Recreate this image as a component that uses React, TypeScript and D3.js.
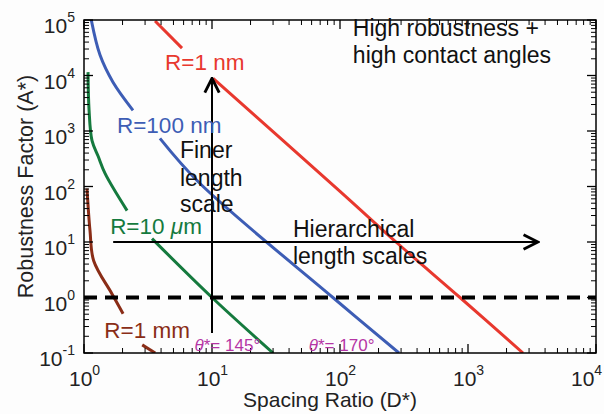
import React from "react";
import * as d3 from "d3";

const W = 604;
const H = 414;
const margin = { top: 20, right: 8, bottom: 61, left: 84 };

// axis decades
const xDecades = [0, 1, 2, 3, 4];
const yDecades = [-1, 0, 1, 2, 3, 4, 5];

// curves: [D*, A*], split where the labels sit
const redCurve = [
  [[3.59, 95900], [5.83, 31200]],
  [[10.2, 8900], [100, 82], [284, 9.3], [866, 1], [2690, 0.1]],
];
const blueCurve = [
  [[1.14, 100000], [1.334, 23300], [1.685, 7570], [2.414, 2360]],
  [[3.92, 736], [8.06, 113], [88, 1], [289, 0.1]],
];
const greenCurve = [
  [[1.075, 11500], [1.095, 2400], [1.155, 670], [1.29, 350], [1.46, 172], [2.17, 36.8]],
  [[3.4, 11.5], [10, 1], [30, 0.1]],
];
const brownCurve = [
  [[1.055, 92], [1.114, 16], [1.19, 4.6], [1.655, 1.16], [2.02, 0.51]],
  [[2.85, 0.14], [3.6, 0.1]],
];

const curves = [
  { segs: redCurve, color: "#e8382e" },
  { segs: blueCurve, color: "#3d5db5" },
  { segs: greenCurve, color: "#157a3e" },
  { segs: brownCurve, color: "#8a2d17" },
];

// annotation texts at [D*, A*] (left edge, baseline)
const curveLabels = [
  { text: "R=1 nm", d: 4.3, a: 12500, color: "#e8382e" },
  { text: "R=100 nm", d: 1.81, a: 908, color: "#3d5db5" },
  { text: "R=1 mm", d: 1.44, a: 0.185, color: "#8a2d17" },
];
const blackLabels = [
  { text: "Finer", d: 5.62, a: 321 },
  { text: "length", d: 5.62, a: 104 },
  { text: "scale", d: 5.62, a: 35 },
  { text: "Hierarchical", d: 42.9, a: 12.3 },
  { text: "length scales", d: 42.9, a: 3.98 },
  { text: "High robustness +", d: 126, a: 51000 },
  { text: "high contact angles", d: 126, a: 16600 },
];
const angleLabels = [
  { angle: 145, d: 7.3, a: 0.108 },
  { angle: 170, d: 57, a: 0.108 },
];

const vArrow = { d: 10, a0: 0.23, a1: 8900 };
const hArrow = { a: 10, d0: 1.69, d1: 3520 };
const thresholdA = 1;

const font = "'Liberation Sans', Arial, Helvetica, sans-serif";

const App = () => {
  const x = d3.scaleLog().domain([1, 1e4]).range([margin.left, W - margin.right]);
  const y = d3.scaleLog().domain([0.1, 1e5]).range([H - margin.bottom, margin.top]);
  const [x0, x1] = x.range();
  const [y0, y1] = y.range();

  const line = d3
    .line<number[]>()
    .x((d) => x(d[0]))
    .y((d) => y(d[1]))
    .curve(d3.curveCatmullRom.alpha(0.5));

  const minor = (decs: number[]) => {
    const out: number[] = [];
    decs.slice(0, -1).forEach((e) => {
      for (let k = 2; k <= 9; k++) out.push(k * Math.pow(10, e));
    });
    return out;
  };
  const xMinor = minor(xDecades);
  const yMinor = minor(yDecades);

  return (
    <svg
      width={W}
      height={H}
      style={{ position: "absolute", left: 0, top: 0, background: "#fdfdfd" }}
      fontFamily={font}
    >
      <defs>
        <clipPath id="plot">
          <rect x={x0} y={y1} width={x1 - x0} height={y0 - y1} />
        </clipPath>
        <marker id="head" viewBox="0 0 10 10" refX="9" refY="5" markerWidth="9" markerHeight="9" orient="auto">
          <path d="M1,1 L9,5 L1,9" fill="none" stroke="black" strokeWidth={1.6} />
        </marker>
      </defs>

      {/* curves */}
      <g clipPath="url(#plot)">
        {curves.map((c, i) =>
          c.segs.map((s, j) => (
            <path key={`${i}-${j}`} d={line(s as number[][]) || ""} fill="none" stroke={c.color} strokeWidth={3} />
          ))
        )}
        <line
          x1={x0}
          x2={x1}
          y1={y(thresholdA)}
          y2={y(thresholdA)}
          stroke="black"
          strokeWidth={4}
          strokeDasharray="13 8"
        />
      </g>

      {/* arrows */}
      <line
        x1={x(vArrow.d)}
        x2={x(vArrow.d)}
        y1={y(vArrow.a0)}
        y2={y(vArrow.a1)}
        stroke="black"
        strokeWidth={2}
        markerEnd="url(#head)"
      />
      <line
        x1={x(hArrow.d0)}
        x2={x(hArrow.d1)}
        y1={y(hArrow.a)}
        y2={y(hArrow.a)}
        stroke="black"
        strokeWidth={2}
        markerEnd="url(#head)"
      />

      {/* frame and ticks */}
      <rect x={x0} y={y1} width={x1 - x0} height={y0 - y1} fill="none" stroke="black" strokeWidth={1.5} />
      {xDecades.map((e) => (
        <g key={`xt${e}`}>
          <line x1={x(10 ** e)} x2={x(10 ** e)} y1={y0} y2={y0 - 9} stroke="black" strokeWidth={1.3} />
          <line x1={x(10 ** e)} x2={x(10 ** e)} y1={y1} y2={y1 + 9} stroke="black" strokeWidth={1.3} />
        </g>
      ))}
      {xMinor.map((v, i) => (
        <g key={`xm${i}`}>
          <line x1={x(v)} x2={x(v)} y1={y0} y2={y0 - 5} stroke="black" strokeWidth={1} />
          <line x1={x(v)} x2={x(v)} y1={y1} y2={y1 + 5} stroke="black" strokeWidth={1} />
        </g>
      ))}
      {yDecades.map((e) => (
        <g key={`yt${e}`}>
          <line x1={x0} x2={x0 + 9} y1={y(10 ** e)} y2={y(10 ** e)} stroke="black" strokeWidth={1.3} />
          <line x1={x1} x2={x1 - 9} y1={y(10 ** e)} y2={y(10 ** e)} stroke="black" strokeWidth={1.3} />
        </g>
      ))}
      {yMinor.map((v, i) => (
        <g key={`ym${i}`}>
          <line x1={x0} x2={x0 + 5} y1={y(v)} y2={y(v)} stroke="black" strokeWidth={1} />
          <line x1={x1} x2={x1 - 5} y1={y(v)} y2={y(v)} stroke="black" strokeWidth={1} />
        </g>
      ))}

      {/* tick labels */}
      {xDecades.map((e) => (
        <text key={`xl${e}`} x={Math.min(x(10 ** e) - 15, W - 33)} y={y0 + 33} fontSize={21} fill="#222">
          10
          <tspan dy={-11} fontSize={14}>
            {e}
          </tspan>
        </text>
      ))}
      {yDecades.map((e) => (
        <text key={`yl${e}`} x={x0 - 9} y={y(10 ** e) + 13} fontSize={21} fill="#222" textAnchor="end">
          10
          <tspan dy={-11} fontSize={14}>
            {e}
          </tspan>
        </text>
      ))}

      {/* axis titles */}
      <text x={330} y={H - 7} fontSize={21} textAnchor="middle" fill="#222">
        Spacing Ratio (D*)
      </text>
      <text
        transform={`translate(33, ${(y0 + y1) / 2}) rotate(-90)`}
        fontSize={21.5}
        textAnchor="middle"
        fill="#222"
      >
        Robustness Factor (A*)
      </text>

      {/* annotations */}
      {curveLabels.map((l) => (
        <text key={l.text} x={x(l.d)} y={y(l.a)} fontSize={22.5} fill={l.color}>
          {l.text}
        </text>
      ))}
      <text x={x(1.6)} y={y(14.2)} fontSize={22.5} fill="#157a3e">
        R=10 <tspan fontStyle="italic">μ</tspan>m
      </text>
      {blackLabels.map((l) => (
        <text key={l.text} x={x(l.d)} y={y(l.a)} fontSize={23} fill="#111">
          {l.text}
        </text>
      ))}
      {angleLabels.map((l) => (
        <text key={l.angle} x={x(l.d)} y={y(l.a)} fontSize={17} fill="#b535a5">
          <tspan fontStyle="italic">θ</tspan>*= {l.angle}°
        </text>
      ))}
    </svg>
  );
};

export default App;
